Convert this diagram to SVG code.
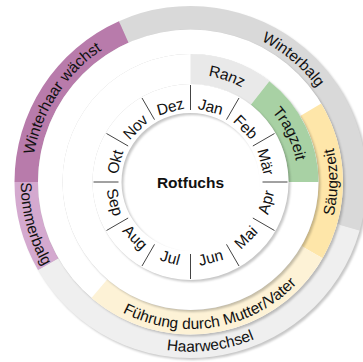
<svg xmlns="http://www.w3.org/2000/svg" xmlns:xlink="http://www.w3.org/1999/xlink" width="363" height="362" viewBox="0 0 363 362">
<style>
text{font-family:"Liberation Sans",Arial,sans-serif;font-size:15.5px;fill:#111}
.m{text-anchor:middle;dominant-baseline:central}
.lbl{text-anchor:middle}
.sep{stroke:#444;stroke-width:1}
.shadow{fill:#000;fill-opacity:.22}
.base{fill:#fff}
</style>
<defs>
<filter id="blur" x="-10%" y="-10%" width="120%" height="120%"><feGaussianBlur stdDeviation="1.2"/></filter>
<path id="ann4" fill-rule="evenodd" d="M14.5,182a176,176 0 1 0 352,0a176,176 0 1 0 -352,0ZM38,182a152.5,152.5 0 1 0 305,0a152.5,152.5 0 1 0 -305,0Z"/>
<path id="ann3" fill-rule="evenodd" d="M38,182a152.5,152.5 0 1 0 305,0a152.5,152.5 0 1 0 -305,0ZM62.5,182a128,128 0 1 0 256,0a128,128 0 1 0 -256,0Z"/>
<path id="ann2" fill-rule="evenodd" d="M62.5,182a128,128 0 1 0 256,0a128,128 0 1 0 -256,0ZM92.5,182a98,98 0 1 0 196,0a98,98 0 1 0 -196,0Z"/>
<path id="ann1" fill-rule="evenodd" d="M92.5,182a98,98 0 1 0 196,0a98,98 0 1 0 -196,0ZM121.5,182a69,69 0 1 0 138,0a69,69 0 1 0 -138,0Z"/>
<path id="tp-winterbalg" d="M68.78,79.86 A158.9,158.9 0 0 1 312.22,284.14"/>
<path id="tp-winterhaar" d="M103.96,315.27 A158.9,158.9 0 0 1 277.04,48.73"/>
<path id="tp-sommerbalg" d="M146.25,16.83 A171,171 0 0 0 234.75,347.17"/>
<path id="tp-haarwechsel" d="M20.78,202.84 A171,171 0 0 0 360.22,161.16"/>
<path id="tp-fuehrung" d="M45.47,206.01 A147,147 0 0 0 335.53,157.99"/>
<path id="tp-saeugezeit" d="M190.5,329 A147,147 0 0 0 190.5,35"/>
<path id="tp-tragzeit" d="M143.33,85.29 A107.6,107.6 0 0 1 237.67,278.71"/>
<path id="tp-ranz" d="M88.76,146.97 A107.6,107.6 0 0 1 292.24,217.03"/>
</defs>
<rect width="363" height="362" fill="#fff"/>

<!-- ring 4: fur -->
<use href="#ann4" class="shadow" transform="translate(2,2)" filter="url(#blur)"/>
<g id="winterbalg">
<path d="M118.92,21.22 A176,176 0 0 1 359.69,230.51 L337.1,224.03 A152.5,152.5 0 0 0 128.48,42.69 Z" fill="#d9d9d9"/>
<text class="lbl"><textPath href="#tp-winterbalg" startOffset="50%">Winterbalg</textPath></text>
</g>
<g id="haarwechsel">
<path d="M359.69,230.51 A176,176 0 0 1 38.08,270 L58.43,258.25 A152.5,152.5 0 0 0 337.1,224.03 Z" fill="#efefef"/>
<text class="lbl"><textPath href="#tp-haarwechsel" startOffset="50%">Haarwechsel</textPath></text>
</g>
<g id="sommerbalg">
<path d="M38.08,270 A176,176 0 0 1 14.5,182 L38,182 A152.5,152.5 0 0 0 58.43,258.25 Z" fill="#d4a9cf"/>
<text class="lbl"><textPath href="#tp-sommerbalg" startOffset="50%">Sommerbalg</textPath></text>
</g>
<g id="winterhaar">
<path d="M14.5,182 A176,176 0 0 1 118.92,21.22 L128.48,42.69 A152.5,152.5 0 0 0 38,182 Z" fill="#b87bab"/>
<text class="lbl"><textPath href="#tp-winterhaar" startOffset="50%">Winterhaar wächst</textPath></text>
</g>

<!-- ring 3: young -->
<use href="#ann3" class="shadow" transform="translate(2,2)" filter="url(#blur)"/>
<use href="#ann3" class="base"/>
<g id="saeugezeit">
<path d="M321.22,103.46 A152.5,152.5 0 0 1 322.57,258.25 L301.35,246 A128,128 0 0 0 300.22,116.08 Z" fill="#fee6a9"/>
<text class="lbl"><textPath href="#tp-saeugezeit" startOffset="50%">Säugezeit</textPath></text>
</g>
<g id="fuehrung">
<path d="M322.57,258.25 A152.5,152.5 0 0 1 91.47,297.96 L107.38,279.33 A128,128 0 0 0 301.35,246 Z" fill="#fdf2d6"/>
<text class="lbl"><textPath href="#tp-fuehrung" startOffset="50%">Führung durch Mutter/Vater</textPath></text>
</g>

<!-- ring 2: reproduction -->
<use href="#ann2" class="shadow" transform="translate(2,2)" filter="url(#blur)"/>
<use href="#ann2" class="base"/>
<g id="ranz">
<path d="M190.5,54 A128,128 0 0 1 269.31,81.14 L250.84,104.78 A98,98 0 0 0 190.5,84 Z" fill="#e9e9e9"/>
<text class="lbl"><textPath href="#tp-ranz" startOffset="50%">Ranz</textPath></text>
</g>
<g id="tragzeit">
<path d="M269.31,81.14 A128,128 0 0 1 318.5,182 L288.5,182 A98,98 0 0 0 250.84,104.78 Z" fill="#a8d1a4"/>
<text class="lbl"><textPath href="#tp-tragzeit" startOffset="50%">Tragzeit</textPath></text>
</g>

<!-- ring 1: months -->
<use href="#ann1" class="shadow" transform="translate(2,2)" filter="url(#blur)"/>
<use href="#ann1" class="base"/>
<g id="months">
<text class="m" x="190.5" y="103.9" transform="rotate(15 190.5 182)">Jan</text>
<text class="m" x="190.5" y="103.9" transform="rotate(45 190.5 182)">Feb</text>
<text class="m" x="190.5" y="103.9" transform="rotate(75 190.5 182)">Mär</text>
<text class="m" x="190.5" y="260.1" transform="rotate(-75 190.5 182)">Apr</text>
<text class="m" x="190.5" y="260.1" transform="rotate(-45 190.5 182)">Mai</text>
<text class="m" x="190.5" y="260.1" transform="rotate(-15 190.5 182)">Jun</text>
<text class="m" x="190.5" y="260.1" transform="rotate(15 190.5 182)">Jul</text>
<text class="m" x="190.5" y="260.1" transform="rotate(45 190.5 182)">Aug</text>
<text class="m" x="190.5" y="260.1" transform="rotate(75 190.5 182)">Sep</text>
<text class="m" x="190.5" y="103.9" transform="rotate(-75 190.5 182)">Okt</text>
<text class="m" x="190.5" y="103.9" transform="rotate(-45 190.5 182)">Nov</text>
<text class="m" x="190.5" y="103.9" transform="rotate(-15 190.5 182)">Dez</text>
</g>
<g id="connectors">
<line class="sep" x1="190.5" y1="110" x2="190.5" y2="85"/>
<line class="sep" x1="226.5" y1="119.65" x2="239" y2="98"/>
<line class="sep" x1="252.85" y1="146" x2="274.5" y2="133.5"/>
<line class="sep" x1="262.5" y1="182" x2="287.5" y2="182"/>
<line class="sep" x1="252.85" y1="218" x2="274.5" y2="230.5"/>
<line class="sep" x1="226.5" y1="244.35" x2="239" y2="266"/>
<line class="sep" x1="190.5" y1="254" x2="190.5" y2="279"/>
<line class="sep" x1="154.5" y1="244.35" x2="142" y2="266"/>
<line class="sep" x1="128.15" y1="218" x2="106.5" y2="230.5"/>
<line class="sep" x1="118.5" y1="182" x2="93.5" y2="182"/>
<line class="sep" x1="128.15" y1="146" x2="106.5" y2="133.5"/>
<line class="sep" x1="154.5" y1="119.65" x2="142" y2="98"/>
</g>
<g id="center">
<text class="m" x="190.5" y="182" font-weight="bold">Rotfuchs</text>
</g>
</svg>
